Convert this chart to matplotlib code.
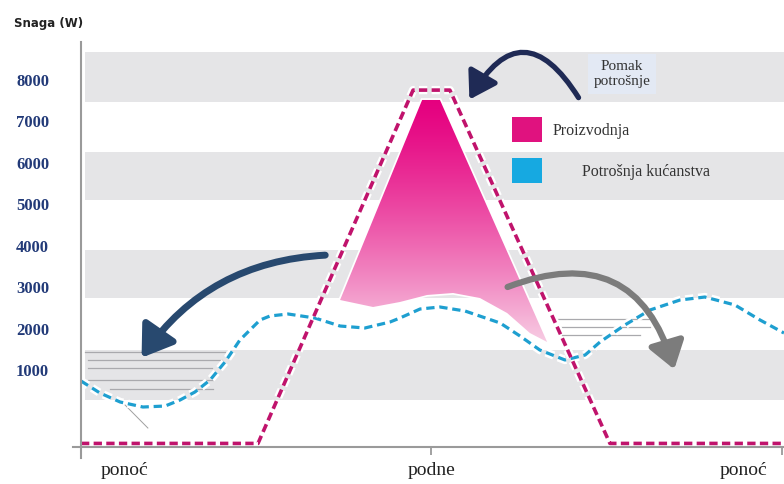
import numpy as np
import matplotlib
matplotlib.use("Agg")
import matplotlib.pyplot as plt
from matplotlib.patches import Polygon, Rectangle, FancyArrowPatch
import matplotlib.patheffects as pe

# hours of the day, power in W
prod_h = [0, 6.06, 11.37, 12.63, 18.11, 24.1]
prod_w = [-773, -773, 7755, 7755, -773, -773]

cons_h = [0.00, 0.65, 1.34, 2.12, 2.88, 3.39, 3.90, 4.42, 4.93, 5.44, 6.13, 6.47,
          7.09, 8.01, 8.87, 9.72, 10.58, 10.92, 11.61, 12.29, 13.15, 14.35, 15.03,
          15.71, 16.57, 17.26, 17.77, 18.62, 19.48, 20.51, 21.36, 22.39, 23.25, 24.07]
cons_w = [734, 444, 227, 106, 130, 275, 468, 758, 1192, 1723, 2206, 2303,
          2351, 2254, 2061, 2013, 2158, 2254, 2472, 2520, 2423, 2134, 1820,
          1482, 1241, 1361, 1675, 2085, 2447, 2689, 2761, 2568, 2206, 1892]

# pink "surplus" shape
surplus_h = [11.68, 12.29, 15.96, 15.37, 14.59, 13.66, 12.74, 11.85, 10.92, 10.00, 8.87]
surplus_w = [7517, 7517, 1675, 1892, 2375, 2737, 2858, 2810, 2641, 2520, 2689]

y_ticks = [1000, 2000, 3000, 4000, 5000, 6000, 7000, 8000]
band_lo = [266, 2729, 5097, 7464]
band_hi = [1473, 3889, 6256, 8671]

# shaded lines (y, x0, x1)
hatch_left = [(1434, 0.14, 4.93), (1241, 0.24, 4.83), (1048, 0.24, 4.49),
              (758, 0.24, 4.52), (541, 0.99, 4.52)]
hatch_right = [(2230, 16.30, 19.48), (2037, 16.30, 19.48), (1844, 16.47, 19.14)]

x_labels = ["ponoć", "podne", "ponoć"]
x_label_pos = [1.5, 12.0, 22.7]

W, H = 784, 484
def fx(x):
    return x / W
def fy(y):
    return 1 - y / H

fig = plt.figure(figsize=(7.84, 4.84), dpi=100)
ax = fig.add_axes([fx(81), fy(447), 703 / W, 405 / H])
ax.set_xlim(0, 24.07)
ax.set_ylim(-859, 8916)
for s in ax.spines.values():
    s.set_visible(False)

serif = "Liberation Serif"

# bands
for lo, hi in zip(band_lo, band_hi):
    ax.axhspan(lo, hi, xmin=0.005, xmax=1, color="#e5e5e7", lw=0, zorder=0)

# hatch lines
for y, a, b in hatch_left + hatch_right:
    ax.plot([a, b], [y, y], color="#a9a9ad", lw=0.9, zorder=1)
ax.plot([1.51, 2.29], [154, -401], color="#a0a0a0", lw=0.7, zorder=1)

# gradient surplus
poly = Polygon(list(zip(surplus_h, surplus_w)), closed=True, facecolor="none",
               edgecolor="white", lw=2.5, zorder=2)
ax.add_patch(poly)
top = np.array([0.90, 0.00, 0.50])
bot = np.array([0.97, 0.80, 0.89])
t = np.linspace(0, 1, 256)[:, None] ** 1.3
grad = top[None, :] * (1 - t) + bot[None, :] * t
grad = grad[:, None, :]
im = ax.imshow(grad, extent=[min(surplus_h), max(surplus_h), min(surplus_w), max(surplus_w)],
               origin="upper", aspect="auto", zorder=2, interpolation="bilinear")
im.set_clip_path(poly)

halo = [pe.Stroke(linewidth=6, foreground="white"), pe.Normal()]
ax.plot(prod_h, prod_w, color="#c0136c", lw=2.6, dashes=(2.3, 1.2),
        path_effects=halo, zorder=4, clip_on=False, solid_capstyle="butt")
ax.plot(cons_h, cons_w, color="#1e9fd0", lw=2.3, dashes=(2.6, 1.5),
        path_effects=halo, zorder=3)

# axis lines
ax.plot([fx(81), fx(81)], [fy(42), fy(458)], color="#9a9a9a", lw=1.5,
        transform=fig.transFigure, clip_on=False, zorder=5)
ax.plot([fx(73), fx(784)], [fy(447), fy(447)], color="#9a9a9a", lw=1.5,
        transform=fig.transFigure, clip_on=False, zorder=5)
ax.set_xticks([12, 24])
ax.set_xticklabels([])
ax.tick_params(axis="x", length=6, width=1.3, color="#9a9a9a")
for lab, xp in zip(x_labels, x_label_pos):
    ax.text(xp, -0.058, lab, transform=ax.get_xaxis_transform(), ha="center",
            va="center", fontsize=14, family=serif, color="#222222")

ax.set_yticks(y_ticks)
ax.set_yticklabels([str(v) for v in y_ticks], family=serif, fontweight="bold",
                   fontsize=12, color="#223a78")
ax.tick_params(axis="y", length=0, pad=23)

fig.text(fx(14), fy(24), "Snaga (W)", fontsize=8.5, fontweight="bold",
         ha="left", va="center", color="#222222")

# legend
fig.patches.append(Rectangle((fx(512), fy(142)), 30 / W, 25 / H, facecolor="#e0127f",
                             edgecolor="none", transform=fig.transFigure))
fig.patches.append(Rectangle((fx(512), fy(183)), 30 / W, 25 / H, facecolor="#16a9e1",
                             edgecolor="none", transform=fig.transFigure))
fig.text(fx(553), fy(131), "Proizvodnja", family=serif, fontsize=11.5,
         va="center", ha="left", color="#333333")
fig.text(fx(582), fy(172), "Potrošnja kućanstva", family=serif, fontsize=11.5,
         va="center", ha="left", color="#333333")
fig.text(fx(622), fy(74), "Pomak\npotrošnje", family=serif, fontsize=11,
         va="center", ha="center", color="#333333", linespacing=1.25,
         bbox=dict(facecolor="#e3e9f4", edgecolor="none", pad=4))

# arrows
def arrow(p0, p1, rad, color, lw, hl, hw):
    a = FancyArrowPatch((fx(p0[0]), fy(p0[1])), (fx(p1[0]), fy(p1[1])),
                        transform=fig.transFigure,
                        connectionstyle=f"arc3,rad={rad}",
                        arrowstyle=f"-|>,head_length={hl},head_width={hw}",
                        mutation_scale=10, color=color, lw=lw,
                        capstyle="round", zorder=6)
    fig.patches.append(a)

arrow((580, 100), (468, 102), 0.85, "#1f2a55", 3.8, 1.6, 1.0)
arrow((328, 255), (140, 360), 0.25, "#28496f", 5.0, 1.8, 1.2)
arrow((505, 288), (675, 372), -0.55, "#7c7c7c", 4.5, 1.6, 1.1)

fig.savefig("out.png", dpi=100)
